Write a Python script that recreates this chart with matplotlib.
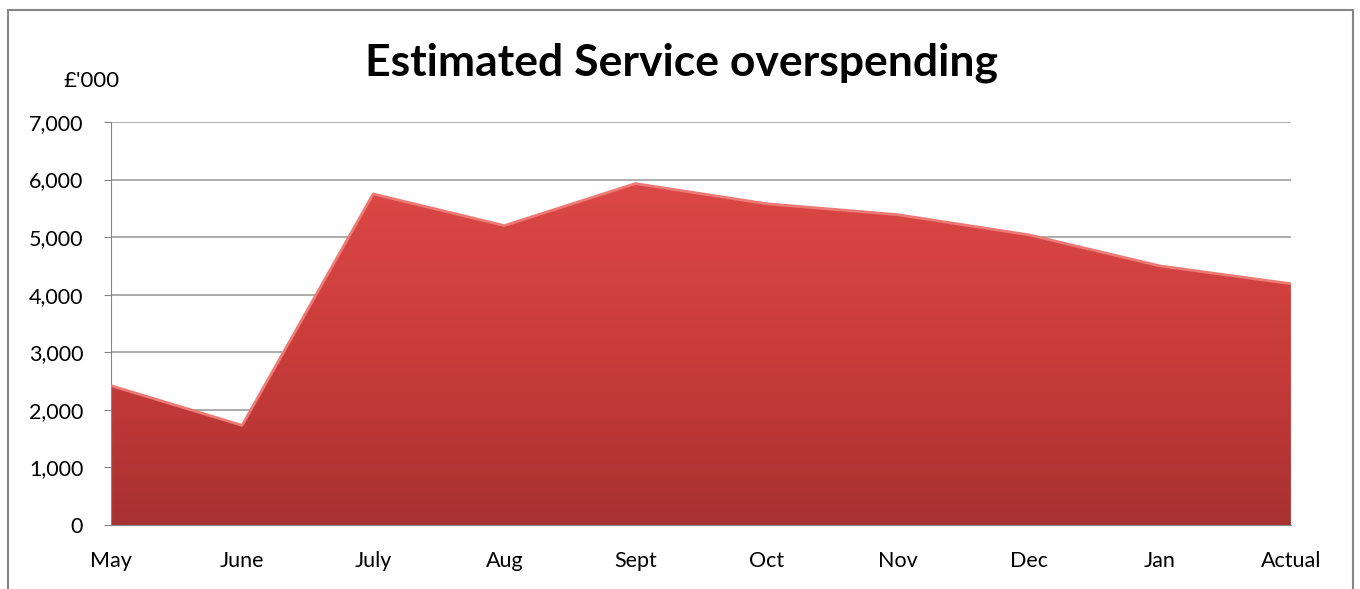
import numpy as np
import matplotlib.pyplot as plt
from matplotlib.colors import LinearSegmentedColormap
from matplotlib.patches import Rectangle

# data (£'000)
months = ["May", "June", "July", "Aug", "Sept", "Oct", "Nov", "Dec", "Jan", "Actual"]
overspend = [2420, 1730, 5750, 5200, 5930, 5580, 5390, 5040, 4500, 4190]
y_ticks = [0, 1000, 2000, 3000, 4000, 5000, 6000, 7000]

plt.rcParams['font.family'] = ['Lato', 'DejaVu Sans']

fig = plt.figure(figsize=(13.6, 5.89), dpi=100)
ax = fig.add_axes([0.0816, 0.1087, 0.8676, 0.6842])

x = np.arange(len(months))

# gradient fill clipped to the area polygon
poly = ax.fill_between(x, overspend, 0, color='none', lw=0)
cmap = LinearSegmentedColormap.from_list('red', ['#a83131', '#c93c3a', '#db4846'])
grad = np.linspace(0, 1, 256).reshape(-1, 1)
img = ax.imshow(grad, cmap=cmap, origin='lower', aspect='auto',
                extent=[x[0], x[-1], 0, max(overspend)], zorder=2)
img.set_clip_path(poly.get_paths()[0], transform=ax.transData)
# light highlight along the top edge
ax.plot(x, overspend, color='#ee7a76', lw=2, zorder=3, solid_joinstyle='round')

ax.set_xlim(x[0], x[-1])
ax.set_ylim(0, 7000)
ax.set_xticks(x)
ax.set_xticklabels(months)
ax.set_yticks(y_ticks)
ax.set_yticklabels([f"{v:,}" for v in y_ticks])
ax.tick_params(axis='both', labelsize=15.5, colors='#000000')
ax.tick_params(axis='y', length=5, color='#868686', pad=15)
ax.tick_params(axis='x', length=0, pad=19)

ax.grid(axis='y', color='#a6a6a6', lw=1.3, zorder=1)
ax.set_axisbelow(True)
for s in ['top', 'right']:
    ax.spines[s].set_visible(False)
ax.spines['left'].set_color('#868686')
ax.spines['bottom'].set_color('#868686')

fig.text(0.501, 0.893, "Estimated Service overspending", ha='center', va='center',
         fontsize=32, fontweight='bold')
fig.text(0.067, 0.862, "£'000", ha='center', va='center', fontsize=16)

# outer chart border
fig.patches.append(Rectangle((0.006, -0.05), 0.989, 1.033, transform=fig.transFigure,
                             fill=False, edgecolor='#868686', lw=1.5))

fig.savefig("out.png", dpi=100)
